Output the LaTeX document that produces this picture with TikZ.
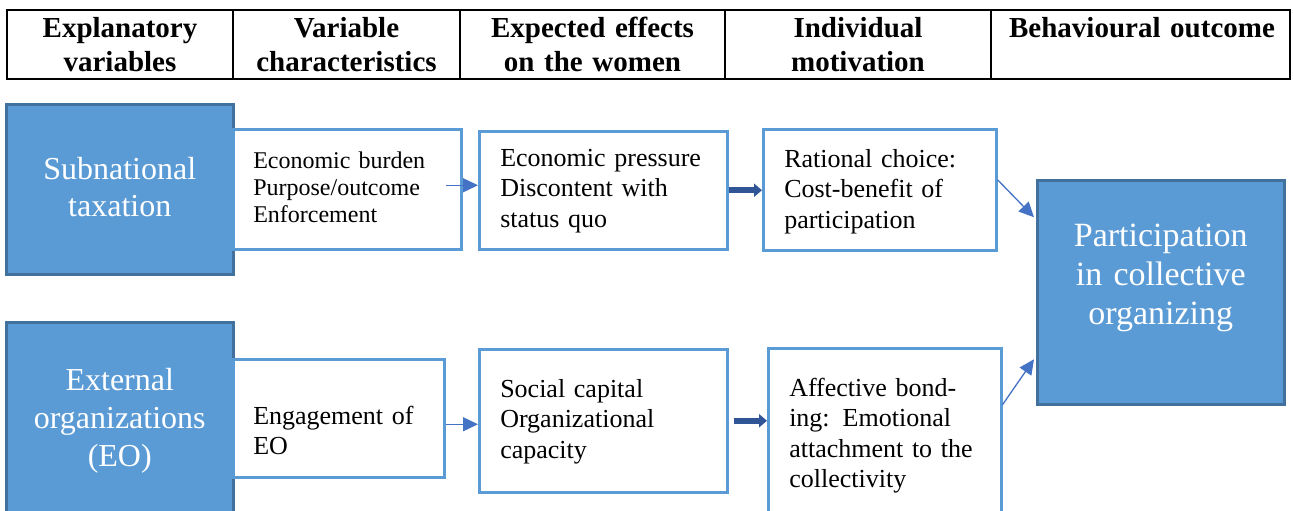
\documentclass[tikz,border=0pt]{standalone}
\usepackage{fontspec}
\setmainfont{Liberation Serif}
\usepackage{tikz}
\usetikzlibrary{arrows.meta}

\definecolor{boxfill}{HTML}{5B9BD5}
\definecolor{boxedge}{HTML}{41719C}
\definecolor{arrowblue}{HTML}{4472C4}
\definecolor{darkblue}{HTML}{2F5597}

\tikzset{
  head/.style={anchor=north, inner sep=0pt, align=center, text height=20pt,
    font={\fontsize{29}{34}\selectfont\bfseries}},
  catbox/.style={draw=boxedge, fill=boxfill, line width=2.5pt, text=white,
    anchor=north west, inner sep=0pt, align=center},
  varbox/.style={draw=boxfill, fill=white, line width=2.5pt,
    anchor=north west, inner ysep=0pt, align=left},
  thinarrow/.style={draw=arrowblue, line width=1.3pt, -{Triangle[length=15pt,width=14pt]}},
  blockarrow/.style={draw=darkblue, line width=6pt, -{Triangle[length=8pt,width=13pt]}},
}

\begin{document}
\begin{tikzpicture}[x=1pt, y=-1pt]
    \useasboundingbox (0,0) rectangle (1293,511);
    \clip (0,0) rectangle (1293,511);
    \fill[white] (0,0) rectangle (1293,511);

    % Draw the header row
    \draw[line width=2pt] (7,10) rectangle (1290,79);
    \foreach \x in {233,460,725,991}
        \draw[line width=2pt] (\x,10) -- (\x,79);

    \node[head, text width=225pt] (hExpl) at (120,17) {Explanatory\\variables};
    \node[head, text width=225pt] (hChar) at (346.5,17) {Variable\\characteristics};
    \node[head, text width=262pt] (hEff) at (592.5,17) {Expected effects\\on the women};
    \node[head, text width=262pt] (hMot) at (858,17) {Individual\\motivation};
    \node[head, text width=295pt] (hOut) at (1142,17) {Behavioural outcome};

    % Explanatory variables and outcome (blue boxes)
    \node[catbox, text width=227pt, text height=75pt, text depth=95pt,
        font={\fontsize{32}{37}\selectfont}] (subtax) at (5,103) {Subnational\\taxation};
    \node[catbox, text width=227pt, text height=68pt, text depth=124pt,
        font={\fontsize{32}{38}\selectfont}] (extorg) at (5,321) {External\\organizations\\(EO)};
    \node[catbox, text width=247pt, text height=66pt, text depth=158pt,
        font={\fontsize{34}{39}\selectfont}] (outcome) at (1036,179) {Participation\\in collective\\organizing};

    % Upper row
    \node[varbox, inner xsep=20pt, text width=188pt, text height=39pt, text depth=81pt,
        font={\fontsize{24}{27}\selectfont}] (char1) at (232,128)
        {Economic burden\\Purpose/outcome\\Enforcement};
    \node[varbox, inner xsep=21pt, text width=206pt, text height=35pt, text depth=83pt,
        font={\fontsize{26}{30.5}\selectfont}] (eff1) at (478,130)
        {Economic pressure\\Discontent with\\status quo};
    \node[varbox, inner xsep=21pt, text width=191pt, text height=38pt, text depth=83pt,
        font={\fontsize{26}{30.5}\selectfont}] (mot1) at (762,128)
        {Rational choice:\\Cost-benefit of\\participation};

    % Lower row
    \node[varbox, inner xsep=20pt, text width=171pt, text height=65pt, text depth=53pt,
        font={\fontsize{26}{30}\selectfont}] (char2) at (232,358)
        {Engagement of\\EO};
    \node[varbox, inner xsep=21pt, text width=206pt, text height=48pt, text depth=95pt,
        font={\fontsize{26}{30.5}\selectfont}] (eff2) at (478,348)
        {Social capital\\Organizational\\capacity};
    \node[varbox, inner xsep=21pt, text width=191pt, text height=48pt, text depth=119pt,
        font={\fontsize{26}{30.5}\selectfont}] (mot2) at (767,347)
        {Affective bond-\\ing: Emotional\\attachment to the\\collectivity};

    % Arrows between the columns
    \coordinate (a1) at ([shift={(-17,-4)}]char1.east);
    \draw[thinarrow] (a1) -- (a1 -| eff1.west);
    \draw[blockarrow] (eff1.east) -- (eff1.east -| mot1.west);
    \draw[thinarrow] ([shift={(0,-10)}]mot1.east) -- ([shift={(-2,-75)}]outcome.west);

    \coordinate (a2) at ([shift={(0,6)}]char2.east);
    \draw[thinarrow] (a2) -- (a2 -| eff2.west);
    \draw[blockarrow] ([shift={(5,0)}]eff2.east) -- (eff2.east -| mot2.west);
    \draw[thinarrow] ([shift={(0,-27)}]mot2.east) -- ([shift={(-2,67)}]outcome.west);
\end{tikzpicture}
\end{document}
